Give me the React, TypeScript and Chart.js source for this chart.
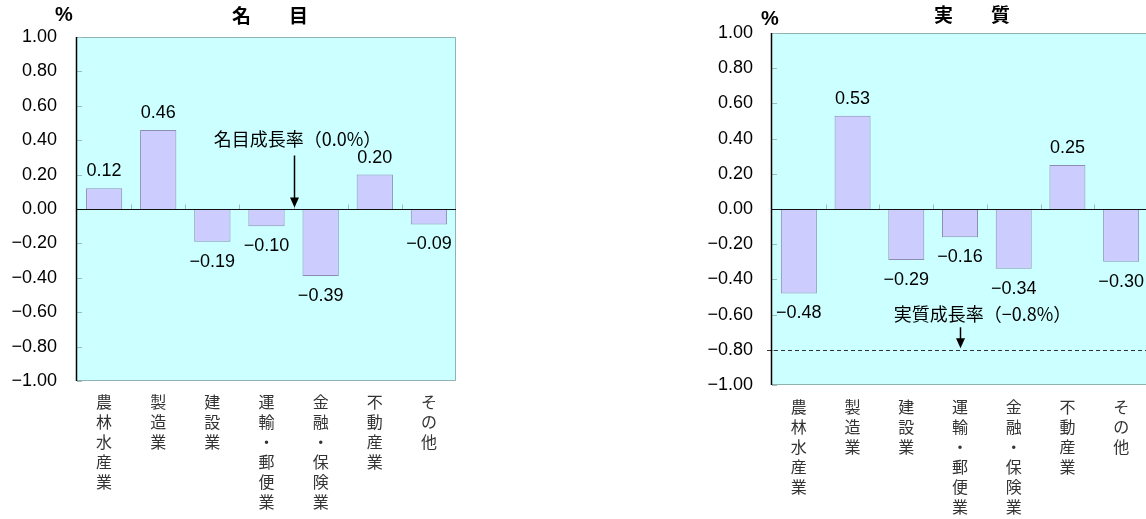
import React, { useEffect, useRef } from "react";
import { Chart, registerables } from "chart.js";

Chart.register(...registerables);

// ---------------- data ----------------
const categories: string[][] = [
  ["農", "林", "水", "産", "業"],
  ["製", "造", "業"],
  ["建", "設", "業"],
  ["運", "輸", "・", "郵", "便", "業"],
  ["金", "融", "・", "保", "険", "業"],
  ["不", "動", "産", "業"],
  ["そ", "の", "他"],
];
const nominalValues = [0.12, 0.46, -0.19, -0.1, -0.39, 0.2, -0.09];
const realValues = [-0.48, 0.53, -0.29, -0.16, -0.34, 0.25, -0.3];
const nominalGrowth = 0.0;
const realGrowth = -0.8;
const nominalGrowthLabel = "名目成長率（0.0%）";
const realGrowthLabel = "実質成長率（−0.8%）";
const nominalArrowAt = 3.5; // category position (between 運輸・郵便業 and 金融・保険業)
const realArrowAt = 3; // category position (運輸・郵便業)
const nominalTitle = "名　　目";
const realTitle = "実　　質";
const unitLabel = "%";
const yMin = -1;
const yMax = 1;
const yStep = 0.2;

// ---------------- helpers ----------------
const fmt = (v: number) => {
  const s = Math.abs(v).toFixed(2);
  return (v < -1e-9 ? "−" : "") + s;
};

const NUM_FONT = "'Liberation Sans', Arial, sans-serif";
const JP_FONT = "'Noto Sans CJK JP', 'Noto Sans', sans-serif";

const decorPlugin = {
  id: "decor",
  beforeDraw(chart: any, _args: any, o: any) {
    const { ctx, chartArea: a } = chart;
    ctx.save();
    ctx.fillStyle = "#CCFFFF";
    ctx.fillRect(a.left, a.top, a.right - a.left, a.bottom - a.top);
    ctx.restore();
  },
  beforeDatasetsDraw(chart: any, _args: any, o: any) {
    const { ctx, chartArea: a, scales } = chart;
    const x = scales.x;
    const y = scales.y;
    ctx.save();
    ctx.strokeStyle = "#8FB3B3";
    ctx.lineWidth = 1;
    ctx.beginPath();
    ctx.moveTo(a.left, a.top + 0.5);
    ctx.lineTo(a.right - 0.5, a.top + 0.5);
    ctx.lineTo(a.right - 0.5, a.bottom - 0.5);
    ctx.lineTo(a.left, a.bottom - 0.5);
    ctx.stroke();

    ctx.strokeStyle = "#9DBDBD";
    y.ticks.forEach((t: any) => {
      const py = Math.round(y.getPixelForValue(t.value)) + 0.5;
      ctx.beginPath();
      ctx.moveTo(a.left, py);
      ctx.lineTo(a.left + 5, py);
      ctx.stroke();
    });
    const zy = Math.round(y.getPixelForValue(0)) + 0.5;
    for (let i = 1; i < categories.length; i++) {
      const px =
        Math.round((x.getPixelForValue(i - 1) + x.getPixelForValue(i)) / 2) + 0.5;
      ctx.beginPath();
      ctx.moveTo(px, zy);
      ctx.lineTo(px, zy - 5);
      ctx.stroke();
    }

    if (Math.abs(o.growth) > 1e-9) {
      const gy = Math.round(y.getPixelForValue(o.growth)) + 0.5;
      ctx.strokeStyle = "#333333";
      ctx.setLineDash([4, 3]);
      ctx.beginPath();
      ctx.moveTo(a.left - 5, gy);
      ctx.lineTo(a.right, gy);
      ctx.stroke();
      ctx.setLineDash([]);
    }
    ctx.restore();
  },
  afterDatasetsDraw(chart: any, _args: any, o: any) {
    const { ctx, chartArea: a, scales } = chart;
    const x = scales.x;
    const y = scales.y;
    ctx.save();
    // zero line
    const zy = Math.round(y.getPixelForValue(0)) + 0.5;
    ctx.strokeStyle = "#111111";
    ctx.lineWidth = 1;
    ctx.beginPath();
    ctx.moveTo(a.left, zy);
    ctx.lineTo(a.right, zy);
    ctx.stroke();
    // left axis
    ctx.lineWidth = 1.5;
    ctx.strokeStyle = "#000000";
    ctx.beginPath();
    ctx.moveTo(a.left - 0.5, a.top);
    ctx.lineTo(a.left - 0.5, a.bottom);
    ctx.stroke();

    // data labels
    const meta = chart.getDatasetMeta(0);
    const vals = chart.data.datasets[0].data as number[];
    ctx.fillStyle = "#000000";
    ctx.font = `18px ${NUM_FONT}`;
    ctx.textAlign = "center";
    ctx.textBaseline = "middle";
    meta.data.forEach((bar: any, i: number) => {
      const v = vals[i];
      const ly = v >= 0 ? bar.y - 17 : bar.y + 20;
      ctx.fillText(fmt(v), bar.x, ly);
    });

    // annotation
    const fl = Math.floor(o.arrowAt);
    const frac = o.arrowAt - fl;
    const ax =
      Math.round(
        x.getPixelForValue(fl) +
          (frac > 0 ? (x.getPixelForValue(fl + 1) - x.getPixelForValue(fl)) * frac : 0)
      ) + 0.5;
    const tip = y.getPixelForValue(o.growth) - 1.5;
    ctx.strokeStyle = "#000000";
    ctx.lineWidth = 1.5;
    ctx.beginPath();
    ctx.moveTo(ax, tip - o.arrowLen);
    ctx.lineTo(ax, tip - 8);
    ctx.stroke();
    ctx.fillStyle = "#000000";
    ctx.beginPath();
    ctx.moveTo(ax - 4.5, tip - 10);
    ctx.lineTo(ax + 4.5, tip - 10);
    ctx.lineTo(ax, tip);
    ctx.closePath();
    ctx.fill();
    ctx.font = `18px ${JP_FONT}`;
    ctx.textAlign = "center";
    ctx.textBaseline = "middle";
    ctx.fillText(o.growthLabel, ax + o.textDx, tip - o.textOffset);

    // title and unit
    ctx.font = `bold 19px ${JP_FONT}`;
    ctx.fillText(o.title, o.titleX, o.titleY);
    ctx.font = `bold 20px ${NUM_FONT}`;
    ctx.fillText(unitLabel, o.unitX, o.unitY);
    ctx.restore();
  },
};

function buildConfig(p: any): any {
  return {
    type: "bar",
    data: {
      labels: categories,
      datasets: [
        {
          data: p.values,
          backgroundColor: "#CCCCFF",
          borderColor: "#8C8CB4",
          borderWidth: 1,
          barPercentage: 0.67,
          categoryPercentage: 1,
        },
      ],
    },
    plugins: [decorPlugin],
    options: {
      responsive: false,
      maintainAspectRatio: false,
      animation: false,
      layout: { padding: { top: p.padTop, right: p.padRight, left: 0, bottom: 0 } },
      plugins: {
        legend: { display: false },
        tooltip: { enabled: false },
        title: { display: false },
        decor: {
          growth: p.growth,
          growthLabel: p.growthLabel,
          arrowAt: p.arrowAt,
          arrowLen: p.arrowLen,
          textOffset: p.textOffset,
          textDx: p.textDx,
          title: p.title,
          titleX: p.titleX,
          titleY: p.titleY,
          unitX: p.unitX,
          unitY: p.unitY,
        },
      },
      scales: {
        x: {
          type: "category",
          offset: true,
          grid: { display: false, drawTicks: false },
          border: { display: false },
          ticks: {
            autoSkip: false,
            maxRotation: 0,
            minRotation: 0,
            color: "#333333",
            padding: p.xTickPad,
            font: { family: JP_FONT, size: 16, lineHeight: 1.25 },
          },
          afterFit(s: any) {
            s.height = p.xAxisHeight;
          },
        },
        y: {
          min: yMin,
          max: yMax,
          grid: { display: false, drawTicks: false },
          border: { display: false },
          ticks: {
            stepSize: yStep,
            color: "#000000",
            padding: p.yTickPad,
            font: { family: NUM_FONT, size: 18 },
            callback: (v: any) => fmt(Number(v)),
          },
          afterFit(s: any) {
            s.width = p.yAxisWidth;
          },
        },
      },
    },
  };
}

function BarPanel(props: { left: number; width: number; cfg: any }) {
  const ref = useRef<HTMLCanvasElement | null>(null);
  useEffect(() => {
    if (!ref.current) return;
    const chart = new Chart(ref.current, buildConfig(props.cfg));
    return () => chart.destroy();
  }, []);
  return (
    <canvas
      ref={ref}
      width={props.width}
      height={519}
      style={{
        position: "absolute",
        left: props.left,
        top: 0,
        width: props.width,
        height: 519,
        display: "block",
      }}
    />
  );
}

const nominalCfg = {
  values: nominalValues,
  growth: nominalGrowth,
  growthLabel: nominalGrowthLabel,
  arrowAt: nominalArrowAt,
  arrowLen: 52,
  textOffset: 68,
  textDx: 3,
  title: nominalTitle,
  titleX: 270,
  titleY: 16,
  unitX: 64,
  unitY: 15,
  padTop: 37,
  padRight: 24,
  yAxisWidth: 77,
  xAxisHeight: 138,
  yTickPad: 20,
  xTickPad: 11,
};

const realCfg = {
  values: realValues,
  growth: realGrowth,
  growthLabel: realGrowthLabel,
  arrowAt: realArrowAt,
  arrowLen: 21,
  textOffset: 34,
  textDx: 22,
  title: realTitle,
  titleX: 292,
  titleY: 15,
  unitX: 90,
  unitY: 19,
  padTop: 33,
  padRight: 2,
  yAxisWidth: 92,
  xAxisHeight: 134,
  yTickPad: 19,
  xTickPad: 12,
};

export default function App() {
  return (
    <div
      style={{
        position: "absolute",
        left: 0,
        top: 0,
        width: 1146,
        height: 519,
        overflow: "hidden",
        background: "#FFFFFF",
      }}
    >
      <BarPanel left={0} width={480} cfg={nominalCfg} />
      <BarPanel left={680} width={470} cfg={realCfg} />
    </div>
  );
}
